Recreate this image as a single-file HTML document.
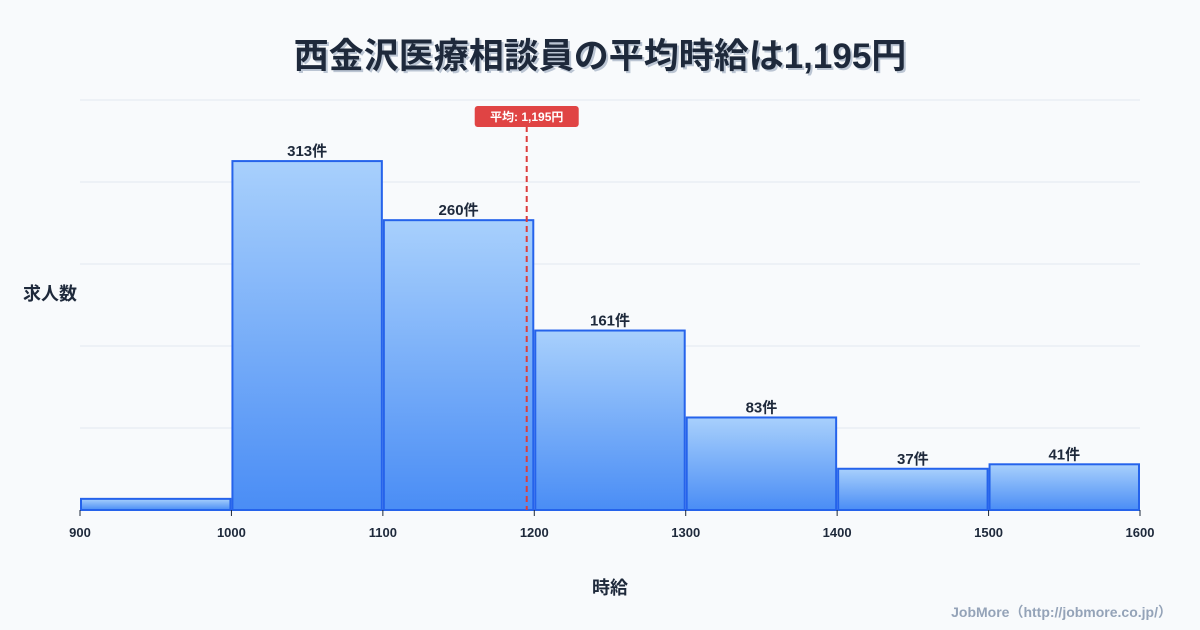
<!DOCTYPE html>
<html><head><meta charset="utf-8">
<style>
body{margin:0;background:#f8fafc;font-family:"Liberation Sans","Noto Sans CJK JP",sans-serif;}
#wrap{position:relative;width:1200px;height:630px;overflow:hidden;background:#f8fafc;}
</style></head>
<body>
<div id="wrap">
<svg id="chart" width="1200" height="630" xmlns="http://www.w3.org/2000/svg">
<defs>
<linearGradient id="bg" x1="0" y1="0" x2="0" y2="1">
<stop offset="0" stop-color="#a8d0fc"/><stop offset="1" stop-color="#4a8df5"/>
</linearGradient>
</defs>
<text x="600" y="68" text-anchor="middle" font-size="35" font-weight="bold" fill="#94a3b8" opacity="0.6" font-family="Liberation Sans,Noto Sans CJK JP,sans-serif" transform="translate(2,2)">西金沢医療相談員の平均時給は1,195円</text>
<text x="600" y="68" text-anchor="middle" font-size="35" font-weight="bold" fill="#1e293b" font-family="Liberation Sans,Noto Sans CJK JP,sans-serif">西金沢医療相談員の平均時給は1,195円</text>
<g id="grid"></g><g id="bars"></g><g id="xticks"></g>
<text x="50" y="300" text-anchor="middle" font-size="18" font-weight="bold" fill="#1e293b" font-family="Liberation Sans,Noto Sans CJK JP,sans-serif">求人数</text>
<text x="610" y="594" text-anchor="middle" font-size="18" font-weight="bold" fill="#1e293b" font-family="Liberation Sans,Noto Sans CJK JP,sans-serif">時給</text>
<text x="1172" y="617" text-anchor="end" font-size="14" font-weight="bold" fill="#94a3b8" font-family="Liberation Sans,Noto Sans CJK JP,sans-serif">JobMore（http://jobmore.co.jp/）</text>
<g id="mean"></g>
</svg>
</div>
<script>
const binStarts=[900,1000,1100,1200,1300,1400,1500];
const counts=[10,313,260,161,83,37,41];
const countLabels=["","313件","260件","161件","83件","37件","41件"];
const xTicks=[900,1000,1100,1200,1300,1400,1500,1600];
const meanValue=1195;
const meanLabel="平均: 1,195円";
const NS="http://www.w3.org/2000/svg";
const L=80,R=1140,B=510,T=100,xMin=900,xMax=1600,yMax=367.8;
const xs=v=>L+(v-xMin)/(xMax-xMin)*(R-L);
const ys=v=>B-v/yMax*(B-T);
function mk(tag,attrs,parent){const e=document.createElementNS(NS,tag);for(const k in attrs)e.setAttribute(k,attrs[k]);parent.appendChild(e);return e;}
const F="Liberation Sans,Noto Sans CJK JP,sans-serif";
const grid=document.getElementById('grid');
for(let i=0;i<=5;i++){const y=B-i*(B-T)/5;
const l=mk('line',{x1:L,x2:R,y1:y,y2:y,stroke:i==0?'#1e293b':'#e2e8f0','stroke-width':1},grid);

}
const bars=document.getElementById('bars');
binStarts.forEach((s,i)=>{
const x0=xs(s)+1,x1=xs(s+100)-1,y=ys(counts[i]);
const r=mk('rect',{x:x0,y:y,width:x1-x0,height:B-y,fill:'url(#bg)',stroke:'#2563eb','stroke-width':2},bars);


if(countLabels[i]){const t=mk('text',{x:(x0+x1)/2,y:y-5,'text-anchor':'middle','font-size':15,'font-weight':'bold',fill:'#1e293b','font-family':F},bars);t.textContent=countLabels[i];

}
});
const xt=document.getElementById('xticks');
xTicks.forEach(v=>{const x=xs(v);
const tl=mk('line',{x1:x,x2:x,y1:B,y2:B+6,stroke:'#1e293b'},xt);


const t=mk('text',{x:x,y:B+27,'text-anchor':'middle','font-size':13,'font-weight':'bold',fill:'#1e293b','font-family':F},xt);t.textContent=v;

});
const mg=document.getElementById('mean');const mx=xs(meanValue);
const ml=mk('line',{x1:mx,x2:mx,y1:126,y2:B,stroke:'#dc3c3c','stroke-width':2,'stroke-dasharray':'6,4'},mg);


const mr=mk('rect',{x:mx-52,y:106,width:104,height:21,rx:3,fill:'#e04444'},mg);


const mt=mk('text',{x:mx,y:121,'text-anchor':'middle','font-size':12,'font-weight':'bold',fill:'#fff','font-family':F},mg);mt.textContent=meanLabel;


</script>
</body></html>
